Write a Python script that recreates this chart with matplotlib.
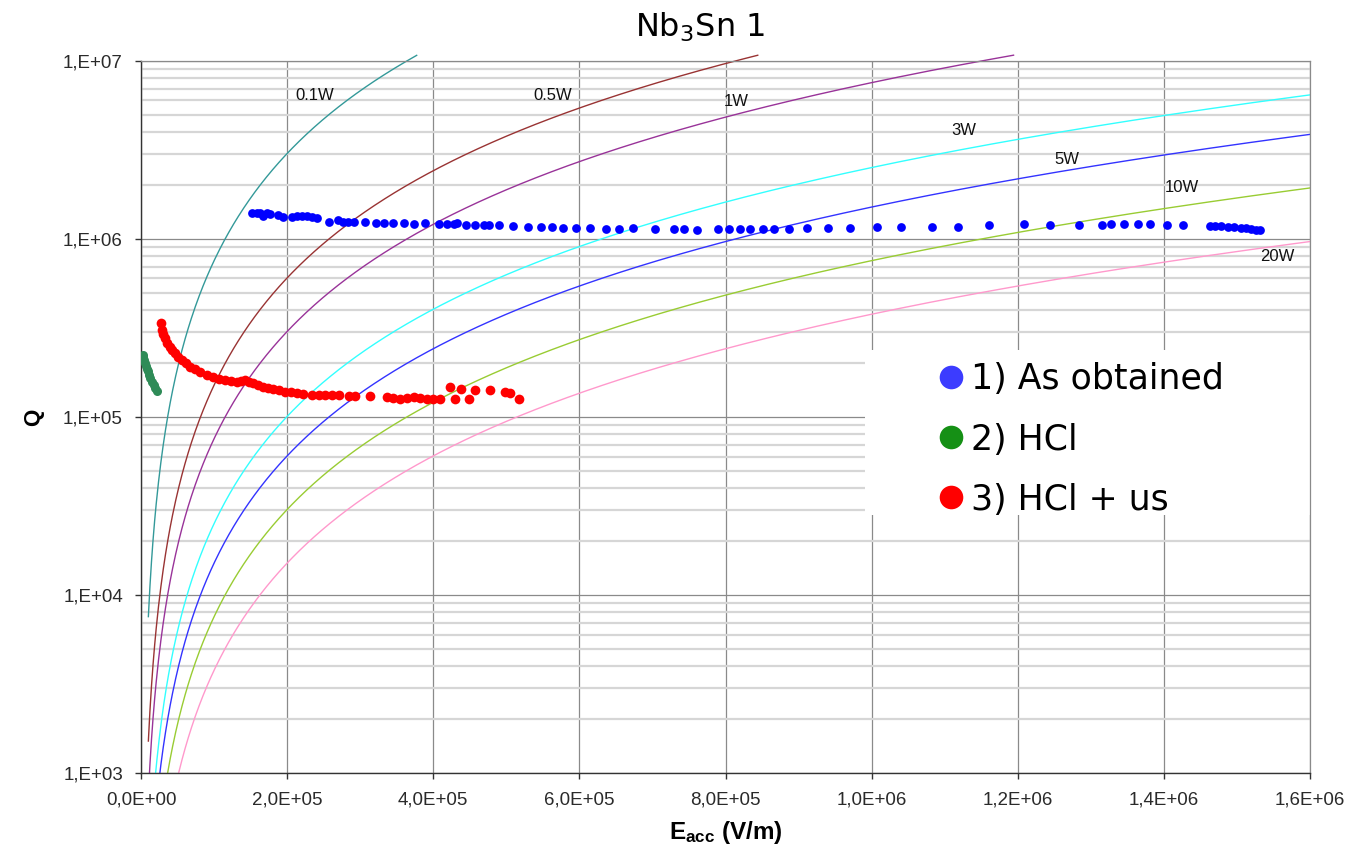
import numpy as np
import matplotlib
matplotlib.use("Agg")
import matplotlib.pyplot as plt
from matplotlib.lines import Line2D
from matplotlib.patches import Rectangle
from matplotlib.ticker import FixedLocator, LogLocator, NullFormatter

plt.rcParams["mathtext.fontset"] = "custom"
plt.rcParams["mathtext.rm"] = "DejaVu Sans"
plt.rcParams["mathtext.bf"] = "Liberation Sans:bold"

# ---- data ----
# constant dissipated power lines: Q = G * E^2 / P, G
power_W = [0.1, 0.5, 1, 3, 5, 10, 20]
power_labels = ["0.1W", "0.5W", "1W", "3W", "5W", "10W", "20W"]
power_colors = ["#339999", "#993333", "#993399", "#33ffff", "#3333ff", "#99cc33", "#ff99cc"]
G_factor = 7.56e-6  # Q*P/E^2, from 1W curve at 8E+05 -> ~4.8E+06
# label anchor points (E, Q)
label_E = [2.38e5, 5.64e5, 8.15e5, 1.126e6, 1.267e6, 1.425e6, 1.555e6]
label_Q = [6.44e6, 6.44e6, 5.96e6, 4.05e6, 2.78e6, 1.94e6, 8.0e5]

# 1) As obtained
blue_E = [1.517e5, 1.585e5, 1.630e5, 1.675e5, 1.722e5, 1.767e5, 1.881e5, 1.941e5,
          2.064e5, 2.133e5, 2.201e5, 2.270e5, 2.338e5, 2.415e5, 2.566e5, 2.689e5,
          2.763e5, 2.826e5, 2.908e5, 3.069e5, 3.219e5, 3.329e5, 3.448e5, 3.603e5,
          3.740e5, 3.890e5, 4.073e5, 4.188e5, 4.278e5, 4.325e5, 4.452e5, 4.575e5,
          4.689e5, 4.758e5, 4.895e5, 5.096e5, 5.302e5, 5.480e5, 5.630e5, 5.781e5,
          5.959e5, 6.151e5, 6.370e5, 6.548e5, 6.740e5, 7.041e5, 7.288e5, 7.438e5,
          7.603e5, 7.891e5, 8.041e5, 8.192e5, 8.329e5, 8.507e5, 8.658e5, 8.863e5,
          9.110e5, 9.398e5, 9.699e5, 1.008e6, 1.040e6, 1.082e6, 1.118e6, 1.160e6,
          1.208e6, 1.244e6, 1.284e6, 1.315e6, 1.327e6, 1.345e6, 1.364e6, 1.381e6,
          1.404e6, 1.426e6, 1.463e6, 1.470e6, 1.478e6, 1.488e6, 1.496e6, 1.506e6,
          1.512e6, 1.519e6, 1.526e6, 1.532e6]
blue_Q = [1.394e6, 1.405e6, 1.394e6, 1.346e6, 1.394e6, 1.382e6, 1.364e6, 1.335e6,
          1.335e6, 1.346e6, 1.346e6, 1.346e6, 1.335e6, 1.307e6, 1.251e6, 1.279e6,
          1.251e6, 1.251e6, 1.251e6, 1.251e6, 1.235e6, 1.235e6, 1.235e6, 1.235e6,
          1.214e6, 1.235e6, 1.214e6, 1.214e6, 1.214e6, 1.225e6, 1.199e6, 1.199e6,
          1.199e6, 1.199e6, 1.199e6, 1.183e6, 1.168e6, 1.168e6, 1.168e6, 1.153e6,
          1.153e6, 1.153e6, 1.138e6, 1.138e6, 1.153e6, 1.138e6, 1.138e6, 1.138e6,
          1.124e6, 1.138e6, 1.138e6, 1.138e6, 1.138e6, 1.138e6, 1.138e6, 1.138e6,
          1.153e6, 1.153e6, 1.153e6, 1.168e6, 1.168e6, 1.168e6, 1.168e6, 1.199e6,
          1.214e6, 1.199e6, 1.199e6, 1.199e6, 1.214e6, 1.214e6, 1.214e6, 1.214e6,
          1.199e6, 1.199e6, 1.183e6, 1.183e6, 1.183e6, 1.168e6, 1.168e6, 1.153e6,
          1.153e6, 1.138e6, 1.124e6, 1.124e6]

# 2) HCl
green_E = [2.3e3, 3.2e3, 4.1e3, 5.0e3, 6.4e3, 7.8e3, 9.1e3, 1.10e4, 1.28e4,
           1.51e4, 1.74e4, 1.96e4, 2.15e4]
green_Q = [2.23e5, 2.16e5, 2.09e5, 2.02e5, 1.94e5, 1.87e5, 1.81e5, 1.73e5, 1.66e5,
           1.58e5, 1.51e5, 1.45e5, 1.40e5]

# 3) HCl + us
red_E = [2.70e4, 2.84e4, 3.05e4, 3.29e4, 3.60e4, 3.97e4, 4.30e4, 4.66e4, 5.10e4,
         5.58e4, 6.10e4, 6.71e4, 7.40e4, 8.08e4, 9.00e4, 9.90e4, 1.07e5, 1.151e5,
         1.23e5, 1.311e5, 1.37e5, 1.425e5, 1.48e5, 1.538e5, 1.60e5, 1.675e5,
         1.74e5, 1.812e5, 1.89e5, 1.973e5, 2.05e5, 2.133e5, 2.22e5, 2.338e5,
         2.43e5, 2.521e5, 2.62e5, 2.703e5, 2.84e5, 2.932e5, 3.127e5, 3.366e5,
         3.45e5, 3.548e5, 3.64e5, 3.73e5, 3.82e5, 3.914e5, 4.00e5, 4.096e5,
         4.223e5, 4.301e5, 4.38e5, 4.484e5, 4.575e5, 4.781e5, 4.986e5, 5.045e5,
         5.169e5]
red_Q = [3.39e5, 3.08e5, 2.92e5, 2.77e5, 2.62e5, 2.48e5, 2.38e5, 2.28e5, 2.18e5,
         2.09e5, 2.00e5, 1.92e5, 1.86e5, 1.80e5, 1.73e5, 1.68e5, 1.64e5, 1.61e5,
         1.59e5, 1.58e5, 1.60e5, 1.61e5, 1.57e5, 1.55e5, 1.51e5, 1.48e5,
         1.45e5, 1.43e5, 1.41e5, 1.39e5, 1.38e5, 1.36e5, 1.35e5, 1.33e5,
         1.33e5, 1.33e5, 1.33e5, 1.33e5, 1.31e5, 1.31e5, 1.31e5, 1.29e5,
         1.28e5, 1.27e5, 1.28e5, 1.29e5, 1.28e5, 1.27e5, 1.27e5, 1.27e5,
         1.47e5, 1.26e5, 1.43e5, 1.27e5, 1.41e5, 1.41e5, 1.39e5, 1.37e5,
         1.27e5]

x_ticks = [0, 2e5, 4e5, 6e5, 8e5, 1.0e6, 1.2e6, 1.4e6, 1.6e6]
x_ticklabels = ["0,0E+00", "2,0E+05", "4,0E+05", "6,0E+05", "8,0E+05",
                "1,0E+06", "1,2E+06", "1,4E+06", "1,6E+06"]
y_ticks = [1e3, 1e4, 1e5, 1e6, 1e7]
y_ticklabels = ["1,E+03", "1,E+04", "1,E+05", "1,E+06", "1,E+07"]

legend_labels = ["1) As obtained", "2) HCl", "3) HCl + us"]
legend_colors = ["#3c3cff", "#159015", "#ff0000"]

# ---- figure ----
fig = plt.figure(figsize=(13.55, 8.52), dpi=100)
ax = fig.add_axes([0.1041, 0.0927, 0.8627, 0.8357])
ax.set_yscale("log")
ax.set_xlim(0, 1.6e6)
ax.set_ylim(1e3, 1e7)

# grid
ax.xaxis.set_major_locator(FixedLocator(x_ticks))
ax.yaxis.set_major_locator(FixedLocator(y_ticks))
ax.yaxis.set_minor_locator(LogLocator(base=10, subs=np.arange(2, 10)))
ax.yaxis.set_minor_formatter(NullFormatter())
ax.set_xticklabels(x_ticklabels)
ax.set_yticklabels(y_ticklabels)
ax.grid(which="major", axis="both", color="#8a8a8a", lw=0.9, zorder=0)
ax.grid(which="minor", axis="y", color="#d6d6d6", lw=1.6, zorder=0)
ax.set_axisbelow(True)

for s in ["top", "right"]:
    ax.spines[s].set_color("#8a8a8a")
    ax.spines[s].set_linewidth(0.9)
for s in ["left", "bottom"]:
    ax.spines[s].set_color("#333333")
    ax.spines[s].set_linewidth(1.0)

ax.tick_params(which="major", direction="out", length=4.5, width=1.0, color="#333333",
               labelsize=13.5, labelcolor="#2a2a2a", pad=8.5)
ax.tick_params(which="minor", length=0)
for t in ax.get_xticklabels() + ax.get_yticklabels():
    t.set_fontfamily("Liberation Sans")

# constant power curves
clip_box = Rectangle((0, 0), 1.01, 1.012, transform=ax.transAxes, visible=False)
ax.add_patch(clip_box)
E_grid = np.linspace(1e4, 1.615e6, 1500)
for P, c in zip(power_W, power_colors):
    Q = G_factor * E_grid ** 2 / P
    keep = Q <= 1.08e7
    line, = ax.plot(E_grid[keep], Q[keep], color=c, lw=1.0, zorder=2)
    line.set_clip_path(clip_box)

for lab, e, q in zip(power_labels, label_E, label_Q):
    ax.text(e, q, lab, fontsize=12, fontfamily="Liberation Sans", color="#111111",
            ha="center", va="center", zorder=4)

# measured points
ax.plot(blue_E, blue_Q, "o", color="#0000ff", ms=6.3, mew=0, zorder=3)
ax.plot(green_E, green_Q, "o", color="#2e8b57", ms=6.5, mew=0, zorder=3)
ax.plot(red_E, red_Q, "o", color="#ff0000", ms=7, mew=0, zorder=3)

# legend background box
ax.add_patch(Rectangle((0.619, 0.362), 0.389, 0.232, transform=ax.transAxes,
                       facecolor="white", edgecolor="none", zorder=2.5, clip_on=False))
handles = [Line2D([], [], marker="o", linestyle="", ms=17, mew=0, color=c)
           for c in legend_colors]
leg = ax.legend(handles, legend_labels, loc="upper left", bbox_to_anchor=(0.6695, 0.601),
                frameon=False, borderpad=0, handlelength=0.6, handletextpad=0.25,
                labelspacing=0.75, prop={"family": "DejaVu Sans", "size": 25})
leg.set_zorder(5)

ax.set_xlabel(r"$\mathbf{E_{acc}}$ (V/m)", fontsize=17.5, fontweight="bold",
              fontfamily="Liberation Sans", labelpad=8)
ax.set_ylabel("Q", fontsize=16, fontweight="bold", fontfamily="Liberation Sans",
              labelpad=14)
fig.text(0.5166, 0.968, r"Nb$_3$Sn 1", fontsize=23, ha="center", va="center",
         fontfamily="DejaVu Sans")

fig.savefig("out.png", dpi=100, facecolor="white")
